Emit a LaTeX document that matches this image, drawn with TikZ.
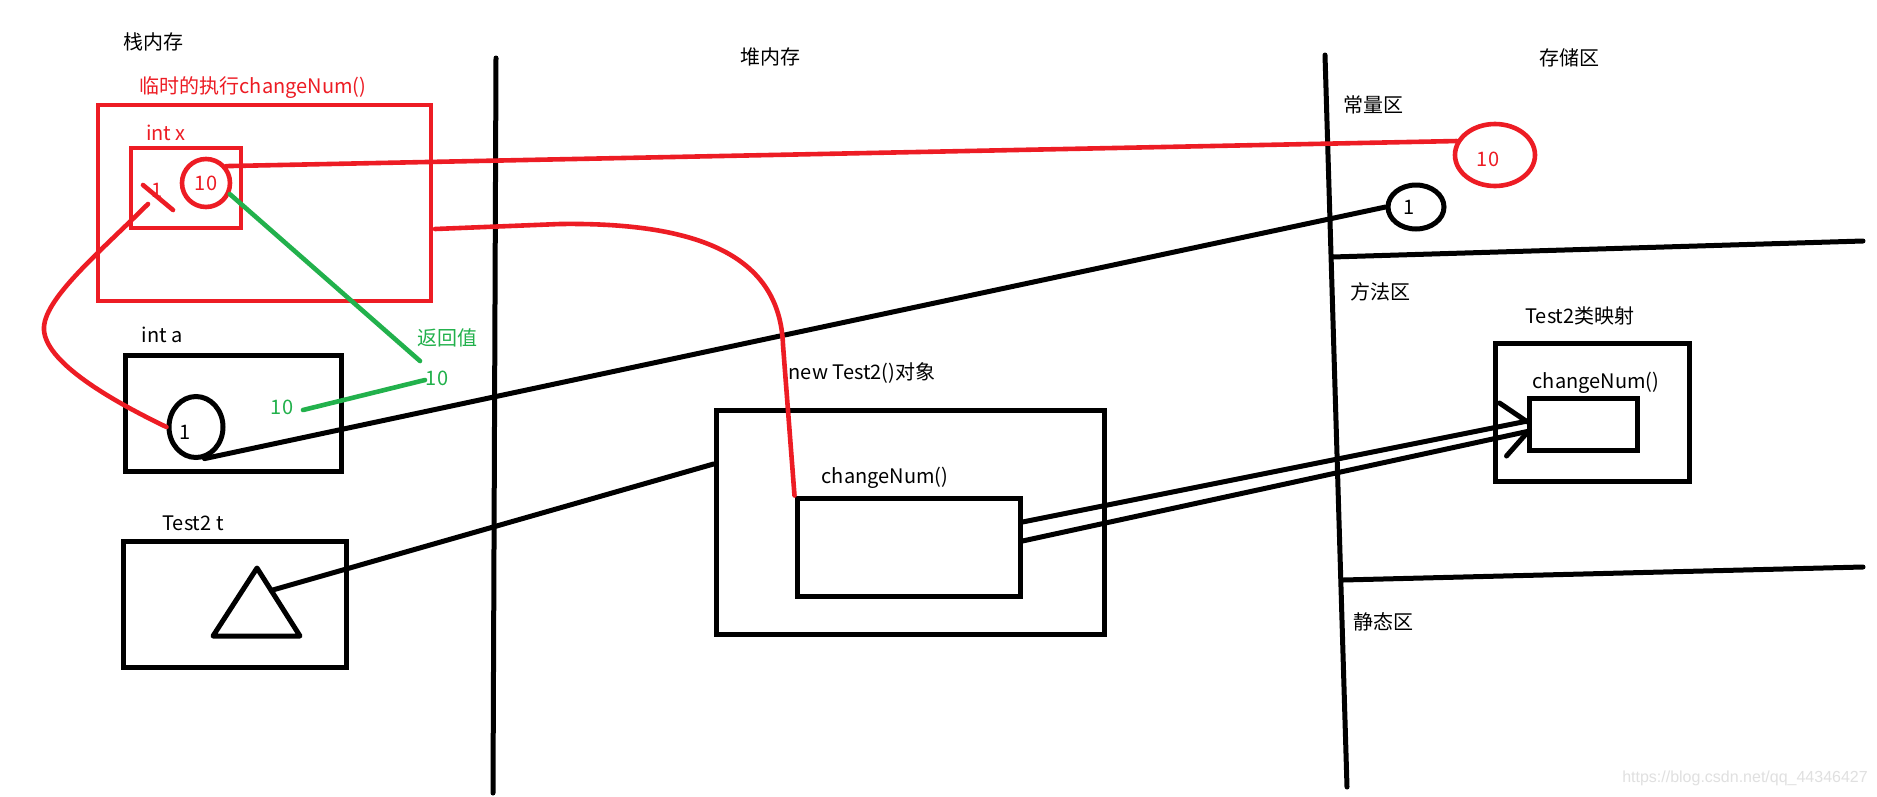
\documentclass[tikz,border=0pt]{standalone}
\usepackage{fontspec}
\setmainfont{Noto Sans CJK SC}
\newfontfamily\wmfont{Liberation Sans}
\usetikzlibrary{shapes.geometric,calc}
\definecolor{pred}{RGB}{237,28,36}
\definecolor{pgreen}{RGB}{34,177,76}
\begin{document}
\begin{tikzpicture}[x=1pt,y=-1pt,
  lbl/.style={font=\fontsize{20}{24}\selectfont, inner sep=0},
  bbox/.style={draw=black, line width=5pt, inner sep=0},
  rbox/.style={draw=pred, line width=4.6pt, inner sep=0},
  bline/.style={draw=black, line width=5pt, line cap=round},
  rline/.style={draw=pred, line width=4.6pt, line cap=round},
  gline/.style={draw=pgreen, line width=4.6pt, line cap=round},
]
\path[use as bounding box, fill=white] (0,0) rectangle (1877,796);

% dividers
\coordinate (v1a) at (496,58);   \coordinate (v1b) at (493,793);
\coordinate (v2a) at (1325,55);  \coordinate (v2b) at (1347,787);
\coordinate (h1a) at (1332,257); \coordinate (h1b) at (1863,241);
\coordinate (h2a) at (1343,580); \coordinate (h2b) at (1863,567);
\draw[bline] (v1a) -- (v1b);
\draw[bline] (v2a) -- (v2b);
\draw[bline] (h1a) -- (h1b);
\draw[bline] (h2a) -- (h2b);

% section titles
\node[lbl] (t1) at (153,42) {栈内存};
\node[lbl] (t2) at (770,57) {堆内存};
\node[lbl] (t3) at (1569,58) {存储区};
\node[lbl] (t4) at (1373,105) {常量区};
\node[lbl] (t5) at (1380,292) {方法区};
\node[lbl] (t6) at (1383,622) {静态区};

% stack frame
\node[rbox, minimum width=333, minimum height=196] (stack) at (264.5,203) {};
\node[lbl, text=pred] (stacklbl) at (253,88) {临时的执行changeNum()};
\node[rbox, minimum width=110, minimum height=80] (intx) at (186,188) {};
\node[lbl, text=pred] (intxlbl) at (166,133) {int x};
\node[rbox, circle, minimum size=48] (rc) at (206,183) {};
\node[lbl, text=pred] (rctxt) at (206,183) {10};
\node[lbl, text=pred] (x1) at (157,190) {1};
\coordinate (xs1) at (143,185);
\coordinate (xs2) at (173,210);
\coordinate (xs3) at (148,204);
\draw[rline] (xs1) -- (xs2);

% int a
\node[bbox, minimum width=216, minimum height=116] (inta) at (233,413) {};
\node[lbl] (intalbl) at (162,335) {int a};
\node[bbox, ellipse, minimum width=54, minimum height=61] (acirc) at (196,427) {};
\node[lbl] (a1) at (185,432) {1};

% Test2 t
\node[bbox, minimum width=223, minimum height=126] (tbox) at (234.5,604) {};
\node[lbl] (tlbl) at (193,523) {Test2 t};
\coordinate (tA) at (257,568);
\coordinate (tB) at (213,636);
\coordinate (tC) at (300,636);
\draw[bline, line join=round] (tA) -- (tB) -- (tC) -- cycle;

% heap object
\node[bbox, minimum width=388, minimum height=224] (hout) at (910,522) {};
\node[lbl] (houtlbl) at (862,373) {new Test2()对象};
\node[bbox, minimum width=223, minimum height=98] (hin) at (908.5,547) {};
\node[lbl] (hinlbl) at (885,478) {changeNum()};

% constants
\node[rbox, ellipse, minimum width=80, minimum height=62] (c10) at (1495,155) {};
\node[lbl, text=pred] (c10txt) at (1488,159) {10};
\node[bbox, ellipse, minimum width=56, minimum height=44] (c1) at (1416,207) {};
\node[lbl] (c1txt) at (1409,207) {1};

% method area
\node[bbox, minimum width=194, minimum height=138] (mout) at (1592,412) {};
\node[lbl] (moutlbl) at (1580,316) {Test2类映射};
\node[bbox, minimum width=108, minimum height=52] (min) at (1583,424) {};
\node[lbl] (minlbl) at (1596,383) {changeNum()};

% green return value
\node[lbl, text=pgreen] (ret) at (447,338) {返回值};
\node[lbl, text=pgreen] (g10a) at (437,378) {10};
\node[lbl, text=pgreen] (g10b) at (282,407) {10};
\coordinate (g1) at (420,361);
\coordinate (g2) at (425,380);
\coordinate (g3) at (303,410);
\draw[gline] (rc.-25) -- (g1);
\draw[gline] (g2) -- (g3);

% connectors
\draw[rline] (rc.40) -- (c10.160);
\draw[bline] (acirc.-75) -- (c1.west);
\draw[rline] (xs3) .. controls (100,252) and (42,300) .. (44,330)
  .. controls (46,360) and (100,395) .. (acirc.west);
\coordinate (s1) at (435,229);
\draw[rline] (s1) -- (560,224) .. controls (710,222) and (780,262) .. (783,345) -- (hin.north west);
\draw[bline] ($(tA)!0.33!(tC)$) -- ($(hout.west)+(0,-58)$);
\draw[bline] ($(hin.east)+(0,-25)$) -- ($(min.west)+(1,-3)$);
\draw[bline] ($(hin.east)+(0,-6)$) -- ($(min.west)+(3,7)$);
\draw[bline] ($(min.west)+(-27,-21)$) -- ($(min.west)+(1,-2)$);
\draw[bline] ($(min.west)+(-20,32)$) -- ($(min.west)+(3,6)$);

% watermark
\node[inner sep=0, text=black!12, font=\wmfont\fontsize{16}{18}\selectfont] (wm) at (1745,778) {https://blog.csdn.net/qq\_44346427};
\end{tikzpicture}
\end{document}
